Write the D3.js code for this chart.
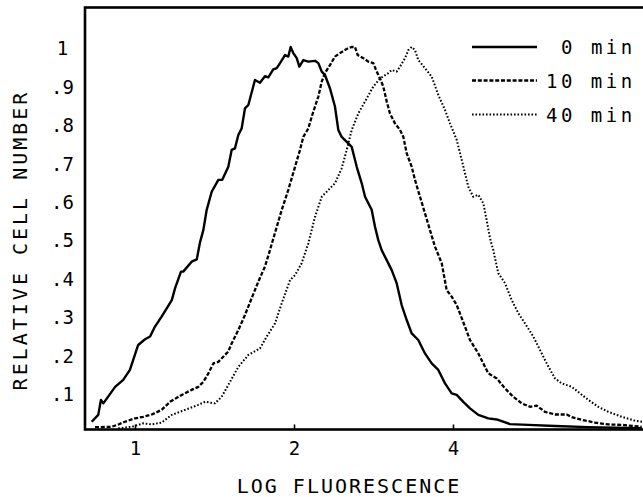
<!DOCTYPE html>
<html>
<head>
<meta charset="utf-8">
<script src="https://cdn.jsdelivr.net/npm/d3@7"></script>
<style>
body { margin: 0; background: #fff; }
svg { display: block; }
text { font-family: "DejaVu Sans Mono", monospace; fill: #000; }
</style>
</head>
<body>
<div id="chart"></div>
<script>
var width = 643;
var height = 497;

// ---------------- data ----------------
// x = fluorescence (log axis), y = relative cell number
var x_0min = [0.828,0.852,0.862,0.871,0.917,0.950,0.978,1.014,1.045,1.068,1.091,1.123,1.174,1.191,1.222,1.234,1.280,1.309,1.328,1.347,1.367,1.397,1.438,1.463,1.502,1.524,1.546,1.569,1.592,1.615,1.639,1.687,1.724,1.762,1.788,1.827,1.855,1.882,1.923,1.951,1.971,1.994,2.024,2.047,2.083,2.129,2.192,2.224,2.257,2.289,2.340,2.391,2.426,2.462,2.517,2.572,2.629,2.687,2.726,2.806,2.847,2.888,2.931,2.996,3.062,3.129,3.198,3.269,3.341,3.438,3.540,3.645,3.752,3.863,3.977,4.065,4.184,4.308,4.467,4.666,4.840,5.129,5.554,6.239,7.215,9.106];
var y_0min = [0.024,0.042,0.081,0.072,0.115,0.133,0.159,0.224,0.239,0.246,0.272,0.298,0.341,0.372,0.415,0.415,0.441,0.447,0.492,0.523,0.576,0.623,0.654,0.654,0.688,0.732,0.736,0.771,0.788,0.840,0.849,0.914,0.907,0.924,0.921,0.942,0.945,0.958,0.979,0.975,1.000,0.984,0.971,0.949,0.966,0.962,0.964,0.958,0.936,0.927,0.892,0.845,0.784,0.766,0.753,0.740,0.688,0.645,0.610,0.576,0.532,0.497,0.471,0.445,0.419,0.385,0.328,0.289,0.254,0.237,0.202,0.176,0.159,0.124,0.098,0.094,0.076,0.059,0.042,0.033,0.030,0.018,0.016,0.013,0.010,0.007];

var x_10min = [0.840,0.903,0.930,0.957,1.000,1.037,1.076,1.123,1.165,1.226,1.280,1.318,1.347,1.377,1.407,1.438,1.502,1.524,1.569,1.615,1.663,1.712,1.762,1.801,1.841,1.896,1.951,2.009,2.053,2.083,2.129,2.160,2.192,2.224,2.257,2.289,2.340,2.391,2.444,2.498,2.534,2.572,2.609,2.640,2.705,2.765,2.826,2.868,2.910,2.952,2.996,3.039,3.106,3.175,3.221,3.269,3.341,3.389,3.464,3.540,3.618,3.698,3.808,3.891,3.977,4.065,4.155,4.308,4.467,4.666,4.840,5.018,5.203,5.397,5.596,5.761,5.973,6.239,6.566,6.711,7.010,7.429,7.872,8.346,9.106];
var y_10min = [0.010,0.011,0.017,0.024,0.033,0.037,0.043,0.055,0.076,0.094,0.107,0.115,0.128,0.150,0.176,0.180,0.207,0.228,0.263,0.302,0.346,0.389,0.428,0.471,0.516,0.576,0.628,0.688,0.732,0.766,0.788,0.818,0.845,0.871,0.910,0.932,0.953,0.975,0.984,0.992,0.997,1.000,1.000,0.979,0.971,0.962,0.958,0.936,0.918,0.897,0.858,0.827,0.801,0.784,0.766,0.723,0.688,0.654,0.610,0.567,0.523,0.480,0.437,0.367,0.350,0.328,0.294,0.237,0.202,0.150,0.137,0.111,0.089,0.072,0.063,0.066,0.050,0.043,0.043,0.036,0.029,0.022,0.017,0.016,0.011];

var x_40min = [0.930,0.986,1.037,1.076,1.123,1.174,1.244,1.318,1.357,1.417,1.459,1.502,1.569,1.639,1.724,1.776,1.841,1.896,1.966,2.009,2.068,2.129,2.160,2.192,2.257,2.391,2.462,2.517,2.572,2.647,2.726,2.826,2.910,3.017,3.062,3.129,3.175,3.245,3.292,3.341,3.389,3.438,3.540,3.645,3.752,3.863,3.948,4.065,4.155,4.276,4.370,4.467,4.565,4.633,4.700,4.768,4.873,5.018,5.166,5.317,5.476,5.677,5.845,6.018,6.239,6.425,6.711,6.958,7.215,7.537,7.872,8.346,8.844,9.442];
var y_40min = [0.007,0.011,0.020,0.017,0.022,0.042,0.055,0.068,0.076,0.072,0.089,0.120,0.167,0.198,0.215,0.246,0.280,0.333,0.393,0.406,0.437,0.489,0.523,0.558,0.610,0.645,0.684,0.732,0.784,0.827,0.858,0.897,0.918,0.932,0.940,0.936,0.949,0.971,0.992,1.000,0.992,0.966,0.945,0.923,0.875,0.836,0.801,0.758,0.706,0.636,0.610,0.615,0.593,0.549,0.502,0.471,0.411,0.385,0.341,0.307,0.280,0.246,0.211,0.176,0.137,0.124,0.115,0.098,0.081,0.063,0.050,0.037,0.027,0.021];

var legend_labels = ["0 min", "10 min", "40 min"];
var x_ticks = [1, 2, 4];
var y_ticks = [0.1, 0.2, 0.3, 0.4, 0.5, 0.6, 0.7, 0.8, 0.9, 1];
var y_tick_labels = [".1", ".2", ".3", ".4", ".5", ".6", ".7", ".8", ".9", "1"];
var x_title = "LOG FLUORESCENCE";
var y_title = "RELATIVE CELL NUMBER";

// ---------------- layout ----------------
var box = {left: 85, top: 7.5, right: 662, bottom: 429.5};
var dashes = ["none", "4,1.8", "1.6,1.9"];
var widths = [2.4, 2.3, 2];

var series = [
  d3.zip(x_0min, y_0min),
  d3.zip(x_10min, y_10min),
  d3.zip(x_40min, y_40min)
];

var svg = d3.select("#chart").append("svg")
  .attr("width", width)
  .attr("height", height)
  .style("background", "#fff");

var x = d3.scaleLog().base(2).domain([1, 4]).range([135, 453]);
var y = d3.scaleLinear().domain([0, 1]).range([431, 47]);

svg.append("clipPath").attr("id", "plotclip")
  .append("rect")
  .attr("x", box.left).attr("y", box.top)
  .attr("width", box.right - box.left)
  .attr("height", box.bottom - box.top);

//---------------- curves ----------------
var line = d3.line()
  .x(function(d) { return x(d[0]); })
  .y(function(d) { return y(d[1]); });

var g_curves = svg.append("g").attr("clip-path", "url(#plotclip)");
series.forEach(function(s, i) {
  g_curves.append("path")
    .datum(s)
    .attr("d", line)
    .style("fill", "none")
    .style("stroke", "#000")
    .style("stroke-width", widths[i])
    .style("stroke-dasharray", dashes[i])
    .style("stroke-linejoin", "round");
});

//---------------- frame ----------------
svg.append("rect")
  .attr("x", box.left).attr("y", box.top)
  .attr("width", box.right - box.left)
  .attr("height", box.bottom - box.top)
  .style("fill", "none")
  .style("stroke", "#000")
  .style("stroke-width", 2.6);

//---------------- axes ----------------
var x_axis = d3.axisBottom(x)
  .tickValues(x_ticks)
  .tickFormat(d3.format("d"))
  .tickSizeInner(-5)
  .tickSizeOuter(0)
  .tickPadding(12);

var g_x = svg.append("g")
  .attr("transform", "translate(0," + box.bottom + ")")
  .call(x_axis);
g_x.select(".domain").remove();
g_x.selectAll("line").style("stroke", "#000").style("stroke-width", 1.6);
g_x.selectAll("text").attr("font-size", 19).style("font-family", "DejaVu Sans Mono");

var y_axis = d3.axisLeft(y)
  .tickValues(y_ticks)
  .tickFormat(function(d, i) { return y_tick_labels[i]; })
  .tickSize(0);

var g_y = svg.append("g")
  .attr("transform", "translate(" + box.left + ",0)")
  .call(y_axis);
g_y.select(".domain").remove();
g_y.selectAll("text")
  .attr("x", -22.5)
  .attr("dy", "0.42em")
  .attr("text-anchor", "middle")
  .attr("font-size", 19)
  .style("font-family", "DejaVu Sans Mono");

//---------------- titles ----------------
svg.append("text")
  .attr("x", 349)
  .attr("y", 493)
  .attr("text-anchor", "middle")
  .attr("font-size", 20)
  .style("letter-spacing", "2px")
  .text(x_title);

svg.append("text")
  .attr("transform", "translate(27,240) rotate(-90)")
  .attr("text-anchor", "middle")
  .attr("font-size", 20)
  .style("letter-spacing", "3px")
  .text(y_title);

//---------------- legend ----------------
var leg_y = [47, 80.5, 114.5];
var g_leg = svg.append("g");
legend_labels.forEach(function(lab, i) {
  g_leg.append("line")
    .attr("x1", 472).attr("x2", 537)
    .attr("y1", leg_y[i]).attr("y2", leg_y[i])
    .style("stroke", "#000")
    .style("stroke-width", widths[i])
    .style("stroke-dasharray", dashes[i]);
  g_leg.append("text")
    .attr("x", 546 + (6 - lab.length) * 15)
    .attr("y", leg_y[i] + 7)
    .attr("font-size", 19)
    .style("letter-spacing", "3.5px")
    .text(lab);
});
</script>
</body>
</html>
